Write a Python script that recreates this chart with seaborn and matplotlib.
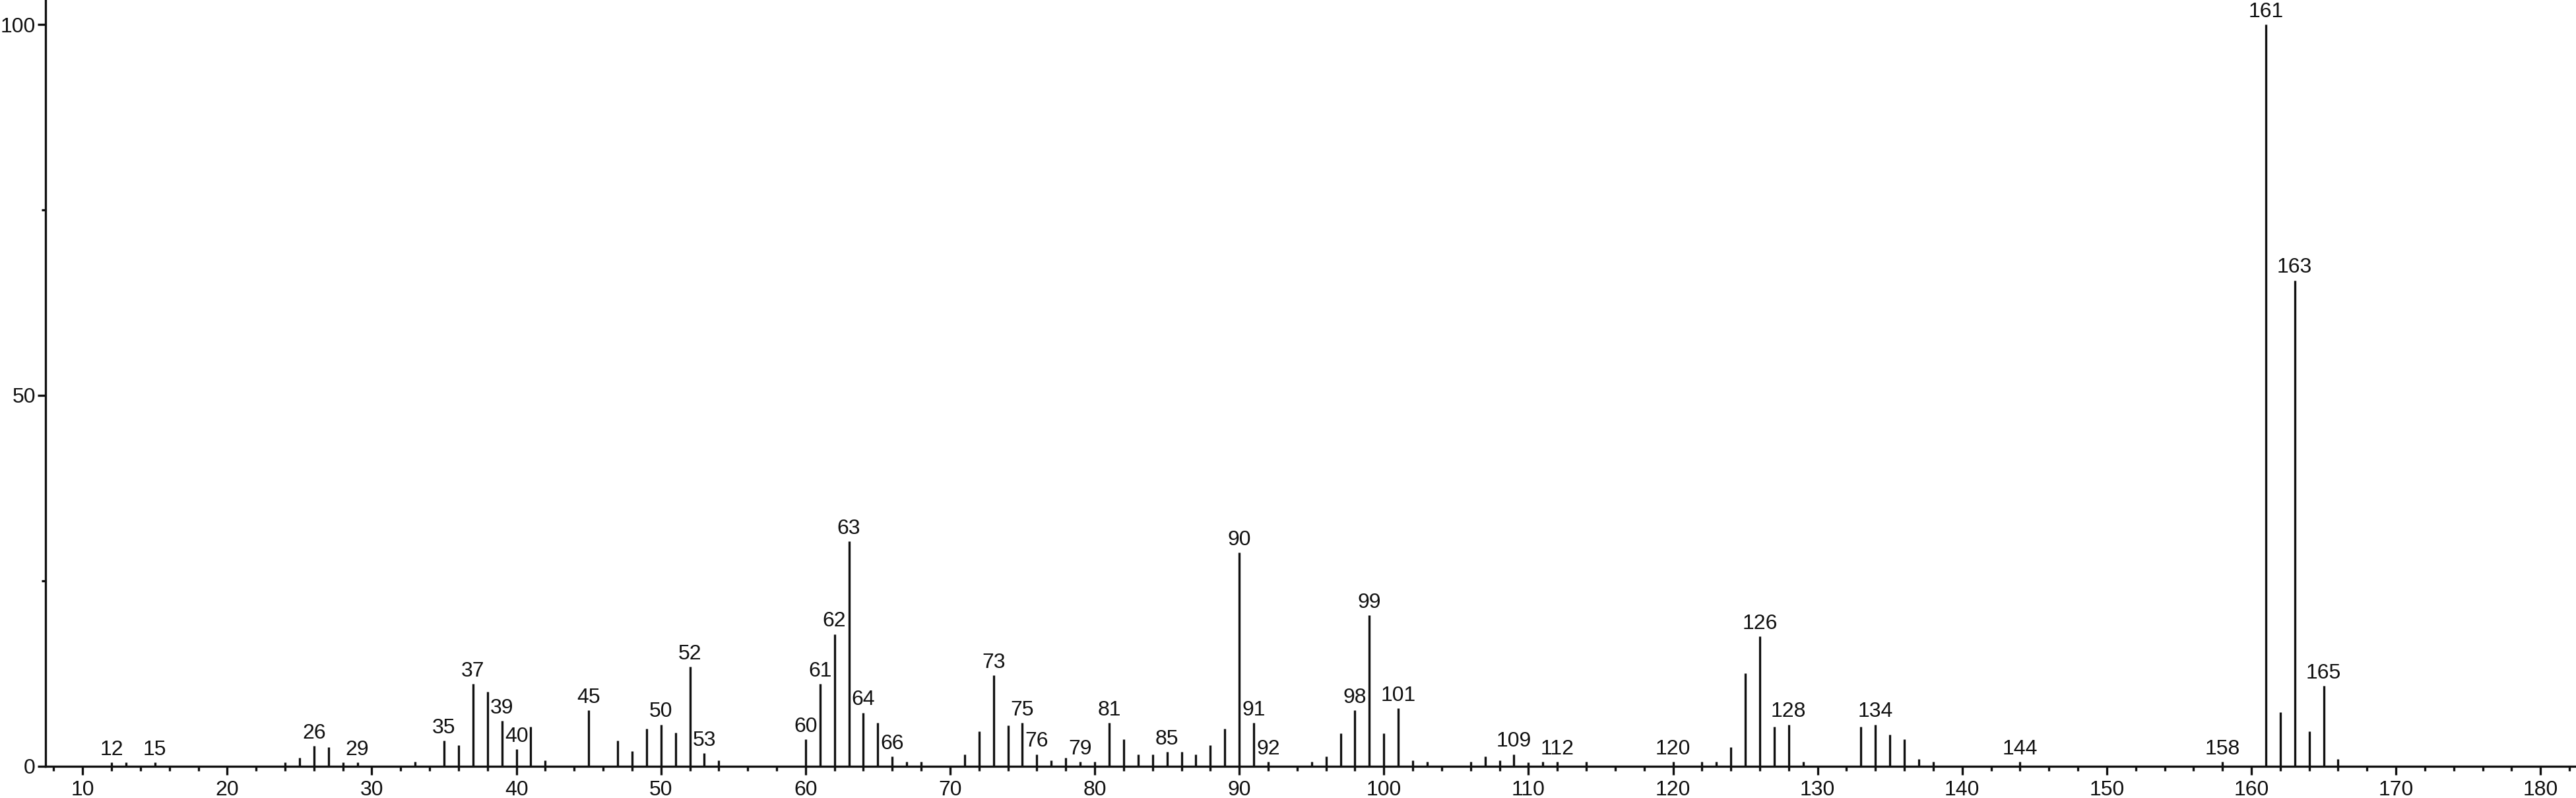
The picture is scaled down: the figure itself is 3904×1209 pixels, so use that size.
import numpy as np
import pandas as pd
import matplotlib
matplotlib.use("Agg")
import matplotlib.pyplot as plt
import seaborn as sns
from matplotlib.ticker import MultipleLocator

# mass spectrum: m/z and relative intensity
mz = [12, 13, 15, 24, 25, 26, 27, 28, 29, 33, 35, 36, 37, 38, 39, 40, 41, 42,
      45, 47, 48, 49, 50, 51, 52, 53, 54, 60, 61, 62, 63, 64, 65, 66, 67, 68,
      71, 72, 73, 74, 75, 76, 77, 78, 79, 80, 81, 82, 83, 84, 85, 86, 87, 88,
      89, 90, 91, 92, 95, 96, 97, 98, 99, 100, 101, 102, 103, 106, 107, 108,
      109, 110, 111, 112, 114, 120, 122, 123, 124, 125, 126, 127, 128, 129,
      133, 134, 135, 136, 137, 138, 144, 158, 161, 162, 163, 164, 165, 166]
intensity = [0.5, 0.5, 0.5, 0.5, 1.1, 2.7, 2.5, 0.5, 0.5, 0.6, 3.4, 2.8, 11.1,
             10.0, 6.1, 2.3, 5.3, 0.8, 7.5, 3.4, 2.0, 5.0, 5.6, 4.5, 13.4, 1.7,
             0.8, 3.6, 11.1, 17.8, 30.3, 7.2, 5.8, 1.3, 0.6, 0.6, 1.6, 4.7, 12.2,
             5.5, 5.8, 1.6, 0.8, 1.1, 0.6, 0.6, 5.8, 3.6, 1.6, 1.6, 1.9, 1.9,
             1.6, 2.8, 5.0, 28.8, 5.8, 0.6, 0.6, 1.3, 4.4, 7.5, 20.3, 4.4, 7.8,
             0.8, 0.6, 0.6, 1.3, 0.8, 1.6, 0.5, 0.6, 0.6, 0.6, 0.6, 0.6, 0.6,
             2.5, 12.5, 17.5, 5.3, 5.6, 0.6, 5.3, 5.6, 4.2, 3.6, 0.9, 0.6, 0.6,
             0.6, 100.0, 7.3, 65.5, 4.7, 10.8, 0.9]

labeled = [12, 15, 26, 29, 35, 37, 39, 40, 45, 50, 52, 53, 60, 61, 62, 63, 64,
           66, 73, 75, 76, 79, 81, 85, 90, 91, 92, 98, 99, 101, 109, 112, 120,
           126, 128, 134, 144, 158, 161, 163, 165]

x_ticks = list(range(10, 181, 10))
y_ticks = [0, 50, 100]

df = pd.DataFrame({"mz": mz, "intensity": intensity})

sns.set_style("ticks")
plt.rcParams["font.family"] = ["Liberation Sans", "DejaVu Sans"]

fig = plt.figure(figsize=(39.05, 12.09), dpi=100)
ax = fig.add_axes([0.0177, 0.0401, 0.9823, 0.9599])

ax.vlines(df["mz"], 0, df["intensity"], color="#111111", linewidth=2.4)

for m, h in zip(df["mz"], df["intensity"]):
    if m in labeled:
        ax.annotate(str(m), (m, h), xytext=(0, 3), textcoords="offset points",
                    ha="center", va="bottom", fontsize=23, color="#111111",
                    annotation_clip=False)

ax.set_xlim(7.44, 182.5)
ax.set_ylim(0, 103.3)
ax.set_xticks(x_ticks)
ax.set_yticks(y_ticks)
ax.xaxis.set_minor_locator(MultipleLocator(2))
ax.yaxis.set_minor_locator(MultipleLocator(25))
ax.tick_params(axis="both", which="major", labelsize=23, width=2.4,
               color="#111111", labelcolor="#111111")
ax.tick_params(axis="x", which="major", length=9.5, pad=6)
ax.tick_params(axis="x", which="minor", length=5, width=2.4, color="#111111")
ax.tick_params(axis="y", which="major", length=9, pad=2)
ax.tick_params(axis="y", which="minor", length=4.5, width=2.4, color="#111111")
ax.set_xlabel("")
ax.set_ylabel("")

sns.despine(ax=ax)
for s in ["left", "bottom"]:
    ax.spines[s].set_linewidth(2.4)
    ax.spines[s].set_color("#111111")

fig.savefig("out.png", dpi=100, facecolor="white")
